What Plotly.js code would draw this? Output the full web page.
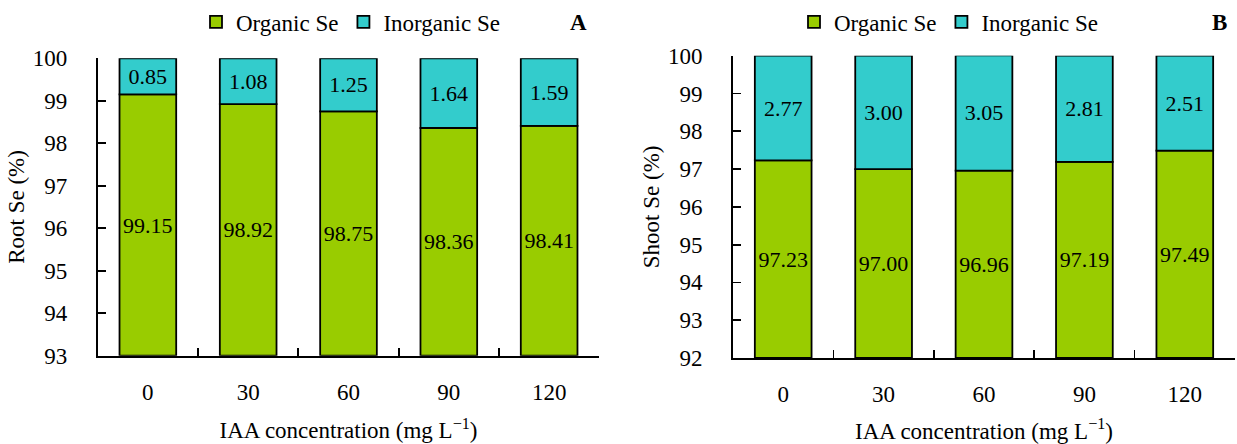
<!DOCTYPE html>
<html>
<head>
<meta charset="utf-8">
<script src="https://cdn.plot.ly/plotly-3.0.1.min.js"></script>
<style>html,body{margin:0;padding:0;background:#fff;}#chart{width:1237px;height:444px;}</style>
</head>
<body>
<div id="chart"></div>
<script>
var categories = ["0", "30", "60", "90", "120"];
var rootOrganic = [99.15, 98.92, 98.75, 98.36, 98.41];
var rootInorganic = [0.85, 1.08, 1.25, 1.64, 1.59];
var shootOrganic = [97.23, 97.00, 96.96, 97.19, 97.49];
var shootInorganic = [2.77, 3.00, 3.05, 2.81, 2.51];
var rootTicks = [93, 94, 95, 96, 97, 98, 99, 100];
var shootTicks = [92, 93, 94, 95, 96, 97, 98, 99, 100];

var rootMin = 93, shootMin = 92;
var GREEN = "#99CC00", CYAN = "#33CCCC";
var FONT = "Liberation Serif";
var FS = 23;

function fmt(a) { return a.map(function (v) { return v.toFixed(2); }); }
function minus(a, m) { return a.map(function (v) { return v - m; }); }

var common = {
  type: "bar",
  x: categories,
  width: 0.565,
  textposition: "inside",
  insidetextanchor: "middle",
  textangle: 0,
  constraintext: "none",
  texttemplate: "%{text}",
  textfont: {family: FONT, size: 22, color: "#000"},
  hoverinfo: "skip"
};

function trace(extra) { return Object.assign({}, common, extra); }

var data = [
  trace({name: "Organic Se", y: minus(rootOrganic, rootMin), base: rootMin, text: fmt(rootOrganic),
    marker: {color: GREEN, line: {color: "#000", width: 1.8}}, xaxis: "x", yaxis: "y", legend: "legend"}),
  trace({name: "Inorganic Se", y: rootInorganic, base: rootOrganic, text: fmt(rootInorganic),
    marker: {color: CYAN, line: {color: "#000", width: 1.8}}, xaxis: "x", yaxis: "y", legend: "legend"}),
  trace({name: "Organic Se", y: minus(shootOrganic, shootMin), base: shootMin, text: fmt(shootOrganic),
    marker: {color: GREEN, line: {color: "#000", width: 1.8}}, xaxis: "x2", yaxis: "y2", legend: "legend2"}),
  trace({name: "Inorganic Se", y: shootInorganic, base: shootOrganic, text: fmt(shootInorganic),
    marker: {color: CYAN, line: {color: "#000", width: 1.8}}, xaxis: "x2", yaxis: "y2", legend: "legend2"})
];

var tickFont = {family: FONT, size: FS, color: "#000"};

function xAxis(domain, anchor) {
  return {
    domain: domain, anchor: anchor, type: "category", range: [-0.5, 4.5],
    showline: true, linecolor: "#000", linewidth: 1.8, mirror: false,
    ticks: "inside", tickson: "boundaries", ticklen: 8, tickwidth: 1.8, tickcolor: "#000",
    tickfont: tickFont, ticklabelstandoff: 15, showgrid: false, zeroline: false, fixedrange: true,
    title: {text: "IAA concentration (mg L<sup>\u22121</sup>)", font: {family: FONT, size: FS, color: "#000"}, standoff: 18}
  };
}
function yAxis(domain, anchor, range, ticks, title) {
  return {
    domain: domain, anchor: anchor, range: range, tickvals: ticks,
    showline: true, linecolor: "#000", linewidth: 1.8,
    ticks: "inside", ticklen: 8, tickwidth: 1.8, tickcolor: "#000",
    tickfont: tickFont, ticklabelstandoff: 24, showgrid: false, zeroline: false, fixedrange: true,
    title: {text: title, font: {family: FONT, size: FS, color: "#000"}, standoff: 2}
  };
}

var legendCommon = {
  orientation: "h", xanchor: "left", yanchor: "middle", y: 1 - 22 / 444,
  font: {family: FONT, size: FS, color: "#000"}, itemwidth: 30, bgcolor: "rgba(0,0,0,0)",
  traceorder: "normal", itemclick: false, itemdoubleclick: false
};

var layout = {
  width: 1237, height: 444,
  margin: {l: 0, r: 0, t: 0, b: 0},
  font: {family: FONT, size: FS, color: "#000"},
  paper_bgcolor: "#fff", plot_bgcolor: "#fff",
  barmode: "overlay",
  showlegend: true,
  xaxis: xAxis([97.7 / 1237, 599.3 / 1237], "y"),
  yaxis: yAxis([1 - 355.7 / 444, 1 - 58.3 / 444], "x", [rootMin, 100], rootTicks, "Root Se (%)"),
  xaxis2: xAxis([733 / 1237, 1235 / 1237], "y2"),
  yaxis2: yAxis([1 - 358 / 444, 1 - 55.7 / 444], "x2", [shootMin, 100], shootTicks, "Shoot Se (%)"),
  legend: Object.assign({}, legendCommon, {x: 196 / 1237}),
  legend2: Object.assign({}, legendCommon, {x: 794 / 1237}),
  annotations: [
    {text: "<b>A</b>", xref: "paper", yref: "paper", x: 578 / 1237, y: 1 - 22 / 444, xanchor: "center", yanchor: "middle",
      showarrow: false, font: {family: FONT, size: FS, color: "#000"}},
    {text: "<b>B</b>", xref: "paper", yref: "paper", x: 1219 / 1237, y: 1 - 22 / 444, xanchor: "center", yanchor: "middle",
      showarrow: false, font: {family: FONT, size: FS, color: "#000"}}
  ]
};

Plotly.newPlot("chart", data, layout, {displayModeBar: false, staticPlot: true});
</script>
</body>
</html>
